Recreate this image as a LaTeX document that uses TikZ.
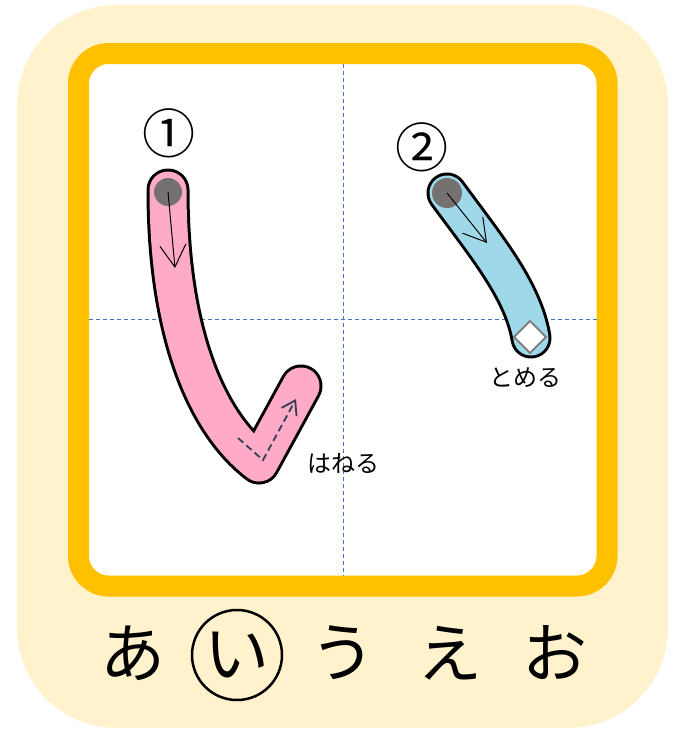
\documentclass[tikz,border=0pt]{standalone}
\usepackage{fontspec}
\newfontfamily\jpfont{Noto Sans CJK JP}
\usetikzlibrary{arrows.meta}
\definecolor{cream}{HTML}{FFF2CC}
\definecolor{frameor}{HTML}{FFC000}
\definecolor{guide}{HTML}{3F76C6}
\definecolor{pinkfill}{HTML}{FFABC8}
\definecolor{bluefill}{HTML}{9ED8E9}
\definecolor{dotgray}{HTML}{767171}
\definecolor{darkslate}{HTML}{333F50}
\definecolor{diagray}{HTML}{808080}
\begin{document}
\begin{tikzpicture}[x=1pt,y=-1pt,
  guideline/.style={guide, line width=1pt, dash pattern=on 4pt off 3pt},
  strokeout/.style={black, line cap=round, line join=round},
  dirarrow/.style={line width=1pt, -{Straight Barb[length=22pt,width=26pt]}},
  label/.style={font=\jpfont\fontsize{24}{26}\selectfont, inner sep=0pt},
  bigkana/.style={font=\jpfont\fontsize{65}{67}\selectfont, inner sep=0pt},
  numlabel/.style={font=\jpfont\fontsize{53}{55}\selectfont, inner sep=0pt}]
\useasboundingbox (0,0) rectangle (681,732);
% background
\fill[cream, rounded corners=100pt] (17,5) rectangle (668,728);
% frame
\draw[frameor, fill=white, line width=21pt, rounded corners=30pt] (78.5,53.5) rectangle (607,586);
% guide lines
\coordinate (gt) at (343,64); \coordinate (gb) at (343,576);
\coordinate (gl) at (89,319); \coordinate (gr) at (597,319);
\draw[guideline] (gt) -- (gb);
\draw[guideline] (gl) -- (gr);
% stroke 1
\coordinate (s1a) at (168,190);
\coordinate (s1c) at (259,463);
\coordinate (s1t) at (301,386);
\draw[strokeout, line width=43pt] (s1a) .. controls (168,330) and (205,422) .. (s1c) -- (s1t);
\draw[strokeout, pinkfill, line width=37pt] (s1a) .. controls (168,330) and (205,422) .. (s1c) -- (s1t);
\fill[dotgray] (168,192) circle (14);
\coordinate (a1s) at (168,192); \coordinate (a1e) at (175,268);
\draw[dirarrow] (a1s) -- (a1e);
\coordinate (h1) at (238,438); \coordinate (h2) at (263,460); \coordinate (h3) at (296,399);
\draw[darkslate, line width=1.8pt, dash pattern=on 7pt off 4pt, -{Straight Barb[length=13pt,width=17pt]}] (h1) -- (h2) -- (h3);
% stroke 2
\coordinate (s2a) at (447,193);
\coordinate (s2b) at (531,338);
\draw[strokeout, line width=41pt] (s2a) .. controls (485,245) and (523,290) .. (s2b);
\draw[strokeout, bluefill, line width=35pt] (s2a) .. controls (485,245) and (523,290) .. (s2b);
\fill[dotgray] (s2a) circle (15);
\coordinate (a2e) at (487,243);
\draw[dirarrow] (s2a) -- (a2e);
\draw[diagray, fill=white, line width=2pt] (530,321) -- (546,337) -- (530,353) -- (514,337) -- cycle;
% numbers and labels
\node[numlabel] (n1) at (169,133) {①};
\node[numlabel] (n2) at (422,147) {②};
\node[label] (hane) at (343,463) {はねる};
\node[label] (tome) at (525,378) {とめる};
% bottom row
\node[bigkana] (ka) at (133,653) {あ};
\node[bigkana, circle, draw, line width=2.5pt, minimum size=90pt] (ki) at (237,655) {い};
\node[bigkana] (ku) at (343,653) {う};
\node[bigkana] (ke) at (450,653) {え};
\node[bigkana] (ko) at (555,653) {お};
\end{tikzpicture}
\end{document}
